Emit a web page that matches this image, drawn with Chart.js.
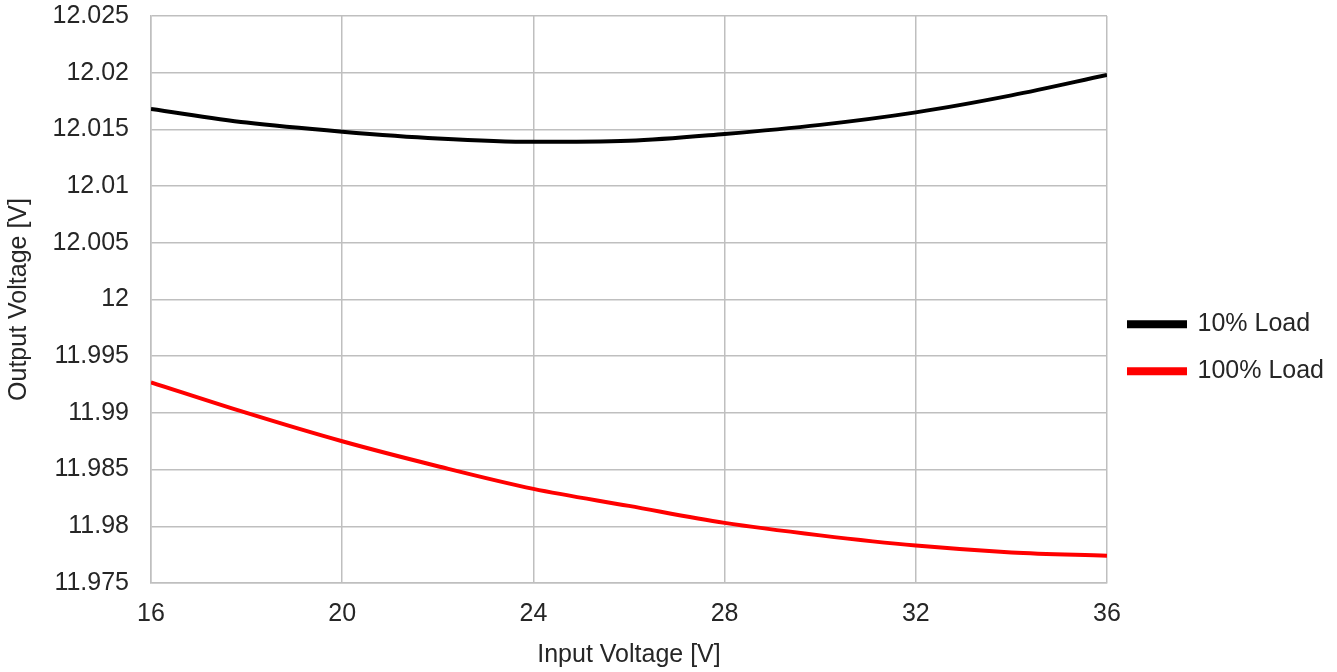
<!DOCTYPE html>
<html>
<head>
<meta charset="utf-8">
<script src="https://cdn.jsdelivr.net/npm/chart.js@4"></script>
<style>
  html, body { margin: 0; padding: 0; background: #fff; }
  #wrap { width: 1337px; height: 672px; }
</style>
</head>
<body>
<div id="wrap"><canvas id="chart"></canvas></div>
<script>
// Input voltage [V]
const inputVoltage = [16, 18, 20, 22, 24, 26, 28, 30, 32, 34, 36];
// Output voltage [V] at 10% load
const load10 = [12.0168, 12.0156, 12.0148, 12.0142, 12.0139, 12.0140, 12.0146, 12.0154, 12.0165, 12.0180, 12.0198];
// Output voltage [V] at 100% load
const load100 = [11.9927, 11.9900, 11.9875, 11.9853, 11.9833, 11.9818, 11.9803, 11.9792, 11.9783, 11.9777, 11.9774];

const xTicks = [16, 20, 24, 28, 32, 36];

const font = { family: "'Liberation Sans', Arial, sans-serif", size: 25 };
const textColor = '#262626';
const gridColor = '#bfbfbf';

const toPoints = ys => inputVoltage.map((x, i) => ({ x: x, y: ys[i] }));

const ctx = document.getElementById('chart').getContext('2d');
new Chart(ctx, {
    type: 'line',
    data: {
        datasets: [{
            label: '10% Load',
            data: toPoints(load10),
            borderColor: '#000000',
            backgroundColor: '#000000',
            borderWidth: 4,
            pointRadius: 0,
            cubicInterpolationMode: 'monotone'
        }, {
            label: '100% Load',
            data: toPoints(load100),
            borderColor: '#ff0000',
            backgroundColor: '#ff0000',
            borderWidth: 4,
            pointRadius: 0,
            cubicInterpolationMode: 'monotone'
        }]
    },
    options: {
        responsive: true,
        maintainAspectRatio: false,
        animation: false,
        layout: { padding: { top: 0, right: 3, left: 4, bottom: 2 } },
        scales: {
            x: {
                type: 'linear',
                min: 16,
                max: 36,
                afterBuildTicks: scale => { scale.ticks = xTicks.map(v => ({ value: v })); },
                ticks: { font: font, color: textColor, padding: 16 },
                grid: { color: gridColor, lineWidth: 1.5, drawTicks: false },
                border: { color: gridColor, width: 1.5 },
                title: { display: true, text: 'Input Voltage [V]', font: font, color: textColor, padding: { top: 4, bottom: 0 } },
                afterFit: scale => { scale.height = 87; }
            },
            y: {
                min: 11.975,
                max: 12.025,
                ticks: {
                    stepSize: 0.005,
                    font: font,
                    color: textColor,
                    padding: 22,
                    callback: v => String(+v.toFixed(3))
                },
                grid: { color: gridColor, lineWidth: 1.5, drawTicks: false },
                border: { color: gridColor, width: 1.5 },
                title: { display: true, text: 'Output Voltage [V]', font: font, color: textColor, padding: { top: 0, bottom: 4 } },
                afterFit: scale => { scale.width = 147; scale.paddingTop = 16; }
            }
        },
        plugins: {
            legend: {
                position: 'right',
                // blank title only nudges the items down a little
                title: { display: true, text: ' ', font: { size: 18 }, padding: { top: 0, bottom: 4 } },
                labels: {
                    font: font,
                    color: textColor,
                    boxWidth: 56,
                    boxHeight: 4,
                    padding: 22
                }
            },
            tooltip: { enabled: false }
        }
    }
});
</script>
</body>
</html>
